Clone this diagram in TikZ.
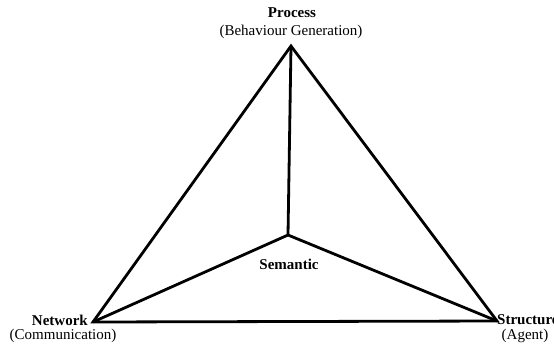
\documentclass[tikz,border=0pt]{standalone}
\usepackage{fontspec}
\setmainfont{Liberation Serif}
\begin{document}
\begin{tikzpicture}[x=1pt,y=-1pt,
  edge/.style={line width=2.8pt,line join=miter},
  lbl/.style={font=\fontsize{15}{17}\selectfont\bfseries,inner sep=0pt},
  sub/.style={font=\fontsize{15}{17}\selectfont,inner sep=0pt}]
\useasboundingbox (0,0) rectangle (554,346);
\clip (0,0) rectangle (554,346);
\coordinate (P) at (291,46);
\coordinate (N) at (93,322);
\coordinate (S) at (497,321);
\coordinate (C) at (288,235);
\draw[edge] (P) -- (N) -- (S) -- cycle;
\draw[edge] (P) -- (C);
\draw[edge] (N) -- (C) -- (S);
\node[lbl] (pt) at (292,13) {Process};
\node[sub] (ps) at (291,32) {(Behaviour Generation)};
\node[lbl,anchor=east] (nt) at (88,320) {Network};
\node[sub] (ns) at (63,336) {(Communication)};
\node[lbl,anchor=west] (st) at (497,320) {Structure};
\node[sub] (ss) at (525,336) {(Agent)};
\node[lbl] (sm) at (289,264) {Semantic};
\end{tikzpicture}
\end{document}
